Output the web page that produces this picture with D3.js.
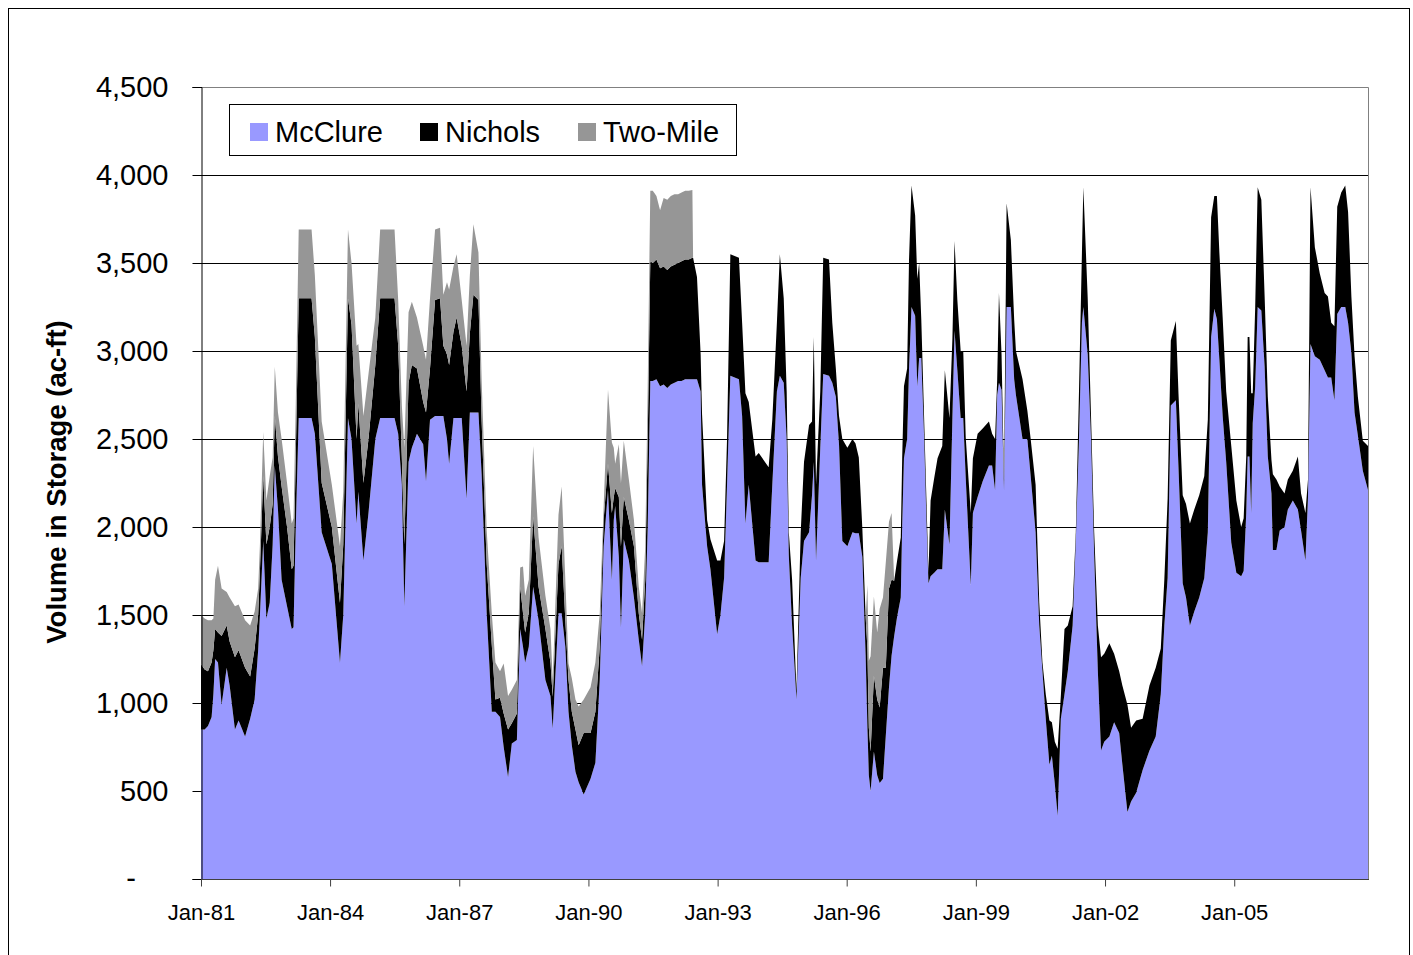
<!DOCTYPE html>
<html>
<head>
<meta charset="utf-8">
<script src="https://cdn.jsdelivr.net/npm/d3@7"></script>
<style>
  html, body { margin: 0; padding: 0; background: #ffffff; }
  svg { display: block; }
  text { font-family: "Liberation Sans", Arial, sans-serif; }
</style>
</head>
<body>
<svg id="chart" width="1413" height="955"></svg>
<script>
// ---------------- DATA ----------------
const seriesNames = ["McClure", "Nichols", "Two-Mile"];
const seriesColors = ["#9999ff", "#000000", "#969696"];

const dates = [
"1981-01-01","1981-02-01","1981-03-01","1981-04-01","1981-04-16","1981-05-01","1981-05-25","1981-06-25","1981-08-07","1981-09-01",
"1981-10-16","1981-11-16","1982-01-10","1982-02-22","1982-04-01","1982-05-01","1982-05-16","1982-06-13","1982-07-10","1982-08-07",
"1982-09-01","1982-09-19","1982-10-16","1982-11-16","1983-01-01","1983-02-10","1983-02-25","1983-03-16","1983-04-10","1983-07-28",
"1983-08-25","1983-10-22","1984-01-16","1984-03-25","1984-04-22","1984-06-01","1984-07-01","1984-08-13","1984-08-28","1984-10-10",
"1984-11-22","1985-01-19","1985-03-01","1985-07-01","1985-08-01","1985-09-01","1985-09-22","1985-10-28","1985-11-25","1986-01-07",
"1986-03-01","1986-03-25","1986-04-28","1986-06-10","1986-07-22","1986-08-19","1986-09-19","1986-10-07","1986-11-13","1986-12-10",
"1987-01-22","1987-03-04","1987-04-01","1987-05-01","1987-06-13","1987-07-10","1987-08-22","1987-10-04","1987-11-04","1987-12-13",
"1988-01-13","1988-02-19","1988-03-22","1988-05-04","1988-06-01","1988-06-25","1988-07-13","1988-08-13","1988-09-19","1988-11-04",
"1989-01-01","1989-02-13","1989-03-04","1989-04-22","1989-05-19","1989-06-19","1989-07-16","1989-08-13","1989-09-13","1989-10-10",
"1989-11-22","1990-01-19","1990-03-01","1990-04-07","1990-05-10","1990-06-16","1990-07-19","1990-08-04","1990-08-16","1990-09-16",
"1990-10-04","1990-10-28","1990-12-10","1991-01-22","1991-03-04","1991-04-01","1991-04-28","1991-05-19","1991-06-10","1991-07-01",
"1991-08-01","1991-09-01","1991-10-01","1991-11-01","1991-12-01","1992-01-01","1992-02-01","1992-03-01","1992-04-01","1992-05-01",
"1992-06-01","1992-06-07","1992-07-10","1992-08-10","1992-08-22","1992-10-04","1992-11-01","1992-12-28","1993-01-25","1993-02-25",
"1993-03-22","1993-04-19","1993-07-01","1993-07-28","1993-08-25","1993-09-22","1993-11-19","1993-12-16","1994-03-10","1994-04-10",
"1994-05-19","1994-06-13","1994-07-16","1994-08-10","1994-08-28","1994-09-25","1994-11-01","1994-12-07","1995-01-04","1995-02-16",
"1995-03-13","1995-03-28","1995-04-16","1995-05-22","1995-06-16","1995-08-04","1995-09-01","1995-10-01","1995-10-28","1995-11-25",
"1996-01-07","1996-02-19","1996-03-16","1996-04-13","1996-05-13","1996-06-10","1996-06-25","1996-07-07","1996-07-22","1996-08-19",
"1996-09-16","1996-10-07","1996-11-04","1996-11-28","1996-12-25","1997-01-16","1997-02-07","1997-03-04","1997-04-04","1997-04-16",
"1997-05-01","1997-05-28","1997-06-13","1997-07-04","1997-08-04","1997-08-22","1997-09-07","1997-09-25","1997-10-19","1997-11-07",
"1997-11-25","1997-12-13","1998-01-13","1998-02-10","1998-03-22","1998-04-13","1998-05-22","1998-06-16","1998-07-04","1998-07-28",
"1998-08-25","1998-09-16","1998-10-07","1998-11-19","1998-12-07","1999-01-16","1999-02-28","1999-04-22","1999-05-19","1999-06-13",
"1999-07-01","1999-07-16","1999-08-07","1999-08-28","1999-09-19","1999-10-25","1999-11-22","1999-12-07","2000-02-01","2000-03-13",
"2000-04-10","2000-05-22","2000-06-22","2000-07-19","2000-08-16","2000-09-16","2000-10-07","2000-11-01","2000-11-25","2000-12-22",
"2001-01-22","2001-02-19","2001-04-01","2001-04-28","2001-05-25","2001-06-19","2001-07-01","2001-08-07","2001-09-04","2001-10-01",
"2001-11-01","2001-11-28","2001-12-25","2002-02-07","2002-03-19","2002-05-01","2002-05-28","2002-07-10","2002-08-10","2002-09-22",
"2002-11-16","2003-01-13","2003-03-07","2003-04-19","2003-05-19","2003-06-16","2003-07-13","2003-08-25","2003-09-16","2003-10-22",
"2003-11-19","2003-12-22","2004-01-28","2004-03-10","2004-04-22","2004-05-22","2004-06-19","2004-07-16","2004-08-07","2004-08-28",
"2004-09-25","2004-10-25","2004-12-07","2005-01-19","2005-03-01","2005-03-22","2005-04-13","2005-04-25","2005-05-10","2005-05-25",
"2005-06-07","2005-06-28","2005-07-19","2005-08-19","2005-09-16","2005-10-13","2005-11-13","2005-11-25","2005-12-25","2006-01-22",
"2006-03-04","2006-04-01","2006-05-13","2006-06-25","2006-07-22","2006-08-28","2006-09-19","2006-10-10","2006-11-16","2006-12-28",
"2007-02-07","2007-03-07","2007-04-04","2007-05-01","2007-05-25","2007-06-28","2007-08-01","2007-08-25","2007-09-22","2007-10-19",
"2007-11-16","2007-12-28","2008-02-10"
];

const mcclure = [
850,850,870,920,1050,1250,1230,990,1200,1100,
850,900,810,910,1020,1300,1500,1920,1480,1570,
1900,2350,2100,1700,1550,1420,1430,2000,2620,2620,
2530,1970,1790,1230,1500,2620,2500,2020,2200,1810,
2080,2500,2620,2620,2530,2240,1550,2370,2450,2530,
2470,2260,2610,2630,2630,2630,2500,2360,2620,2620,
2620,2160,2650,2650,2650,2300,1510,950,950,920,
750,580,770,790,1420,1320,1230,1320,1660,1470,
1130,1040,855,1510,1510,1320,950,760,610,550,
480,570,660,1130,1890,2210,1700,2040,2120,1830,
1430,1930,1810,1600,1360,1210,1510,2000,2830,2830,
2840,2800,2810,2790,2810,2820,2830,2830,2840,2840,
2840,2840,2840,2770,2240,1890,1760,1390,1500,1710,
2240,2860,2840,2630,2020,2240,1810,1800,1800,2240,
2770,2860,2820,2500,1840,1440,1020,1710,1920,1970,
2180,2370,1810,2450,2870,2860,2820,2740,2470,1920,
1890,1970,1965,1965,1830,1270,860,590,500,725,
590,545,570,815,1090,1270,1380,1490,1600,2010,
2390,2500,2900,3250,3200,2800,2960,2960,2510,2055,
1680,1720,1740,1760,1760,2100,1900,2620,3115,2890,
2620,2620,2280,1670,2080,2170,2260,2350,2350,2210,
2750,2820,2780,2210,3250,3250,2840,2750,2500,2500,
2290,1970,1440,1180,910,650,700,540,360,910,
1050,1180,1440,1920,2500,3160,3250,2980,2500,1840,
1180,730,780,810,890,830,650,380,440,490,
620,730,810,1050,1440,1710,2690,2720,2340,1680,
1600,1440,1520,1600,1710,1970,3080,3240,3180,2950,
2630,2370,1910,1740,1720,1750,2080,2400,2400,2080,
2590,2800,3250,3230,2910,2400,2190,1870,1870,1980,
2000,2100,2150,2100,1980,1810,2170,3040,2970,2950,
2890,2850,2850,2720,3210,3250,3250,3160,2990,2650,
2520,2320,2210
];

const nichols = [
370,340,310,310,250,170,170,390,240,250,
410,400,390,240,290,200,250,370,420,430,
230,280,300,530,450,340,350,400,680,680,
550,280,210,340,400,680,650,480,500,440,
420,420,680,680,500,150,350,450,470,370,
240,390,290,660,670,400,480,560,490,570,
410,610,450,670,640,300,280,380,70,110,
190,270,115,150,240,190,170,190,400,190,
290,190,180,280,380,150,180,190,240,210,
350,260,290,190,150,150,380,130,100,340,
460,240,230,290,150,150,190,500,680,670,
680,670,670,670,670,670,670,680,680,680,
690,690,580,210,400,150,170,420,310,210,
260,690,690,530,740,470,590,620,540,370,
390,690,480,270,130,260,50,260,450,610,
420,710,430,320,660,660,340,160,160,580,
560,530,510,430,160,220,450,270,225,430,
430,430,630,385,560,430,315,320,340,380,
410,400,620,690,570,610,540,220,110,115,
60,430,540,630,700,790,720,450,510,400,
380,380,230,410,310,360,300,250,180,290,
90,510,200,60,590,380,340,250,340,160,
210,270,130,50,140,250,190,240,380,130,
370,260,110,50,270,400,680,320,130,130,
260,530,500,530,390,350,450,610,420,410,
290,370,390,260,260,450,370,450,420,500,
530,580,580,580,580,640,680,640,700,610,
560,400,550,410,280,300,320,680,680,680,
170,450,680,630,400,340,190,430,400,250,
190,170,170,300,210,270,100,890,620,490,
440,460,310,420,610,650,690,630,320,320,
220,170,250
];

const twoMile = [
280,290,290,240,180,280,380,270,190,250,
290,260,270,290,210,150,150,250,250,290,
265,280,250,270,250,260,270,300,390,390,
350,350,240,320,300,390,350,530,340,380,
370,270,390,390,260,300,550,400,360,290,
320,300,400,400,400,290,410,430,370,360,
260,260,330,400,270,235,190,180,210,150,
285,190,190,190,110,265,210,190,400,280,
190,190,95,280,340,230,95,190,170,220,
190,260,280,190,75,420,400,280,140,300,
360,320,230,150,150,150,190,300,400,410,
360,330,390,400,400,400,390,390,390,390,
385,0,0,0,0,0,0,0,0,0,
0,0,0,0,0,0,0,0,0,0,
0,0,0,0,0,0,0,0,0,0,
0,0,0,0,0,0,0,0,0,0,
0,0,0,0,0,0,360,380,540,450,
380,560,400,600,380,380,0,0,0,0,
0,0,0,0,0,0,0,0,0,0,
0,0,0,0,0,0,0,0,0,0,
0,0,0,0,0,0,0,0,0,0,
0,0,0,0,0,0,0,0,0,0,
0,0,0,0,0,0,0,0,0,0,
0,0,0,0,0,0,0,0,0,0,
0,0,0,0,0,0,0,0,0,0,
0,0,0,0,0,0,0,0,0,0,
0,0,0,0,0,0,0,0,0,0,
0,0,0,0,0,0,0,0,0,0,
0,0,0,0,0,0,0,0,0,0,
0,0,0,0,0,0,0,0,0,0,
0,0,0,0,0,0,0,0,0,0,
0,0,0
];

const yTickValues = [0, 500, 1000, 1500, 2000, 2500, 3000, 3500, 4000, 4500];
const xTickDates = ["1981-01-01","1984-01-01","1987-01-01","1990-01-01","1993-01-01","1996-01-01","1999-01-01","2002-01-01","2005-01-01"];
const yAxisTitle = "Volume in Storage (ac-ft)";

if (dates.length !== mcclure.length || dates.length !== nichols.length || dates.length !== twoMile.length) {
  console.error("length mismatch", dates.length, mcclure.length, nichols.length, twoMile.length);
}

// ---------------- LAYOUT ----------------
const plot = { left: 201, right: 1368, top: 87, bottom: 879 };
const parse = d3.timeParse("%Y-%m-%d");

const table = dates.map((d, i) => ({
  date: parse(d),
  "McClure": mcclure[i],
  "Nichols": nichols[i],
  "Two-Mile": twoMile[i]
}));

const x = d3.scaleTime()
  .domain(d3.extent(table, d => d.date))
  .range([plot.left, plot.right]);
const y = d3.scaleLinear()
  .domain([0, 4500])
  .range([plot.bottom, plot.top]);

const svg = d3.select("#chart");

// outer frame
svg.append("rect")
  .attr("x", 8.5).attr("y", 8.5)
  .attr("width", 1401).attr("height", 952)
  .attr("fill", "#ffffff").attr("stroke", "#000000").attr("stroke-width", 1);

// gridlines
svg.append("g").selectAll("line")
  .data(yTickValues.filter(v => v > 0 && v < 4500))
  .join("line")
  .attr("x1", plot.left).attr("x2", plot.right)
  .attr("y1", d => Math.round(y(d)) + 0.5).attr("y2", d => Math.round(y(d)) + 0.5)
  .attr("stroke", "#000000").attr("stroke-width", 1);

// plot border (top & right)
svg.append("path")
  .attr("d", `M${plot.left},${plot.top + 0.5}H${plot.right + 0.5}V${plot.bottom}`)
  .attr("fill", "none").attr("stroke", "#808080").attr("stroke-width", 1);

// stacked areas
const stack = d3.stack().keys(seriesNames);
const layers = stack(table);
const area = d3.area()
  .x(d => x(d.data.date))
  .y0(d => y(d[0]))
  .y1(d => y(d[1]))
  .curve(d3.curveLinear);

svg.append("g").selectAll("path")
  .data(layers)
  .join("path")
  .attr("d", area)
  .attr("fill", (d, i) => seriesColors[i])
  .attr("stroke", "none");

// y axis
const yAxis = d3.axisLeft(y)
  .tickValues(yTickValues)
  .tickSize(9)
  .tickPadding(0)
  .tickFormat(d => d === 0 ? "" : d3.format(",")(d));
const gy = svg.append("g")
  .attr("transform", `translate(${plot.left + 0.5},0)`)
  .call(yAxis);
gy.select(".domain").attr("stroke", "#000000");
gy.selectAll(".tick line").attr("stroke", "#000000");
gy.selectAll(".tick text")
  .attr("x", -33)
  .attr("font-size", 29)
  .attr("fill", "#000000")
  .attr("font-family", "'Liberation Sans', Arial, sans-serif");
// zero label shown as a dash
svg.append("text")
  .attr("x", 131).attr("y", y(0))
  .attr("dy", "0.32em")
  .attr("text-anchor", "middle")
  .attr("font-size", 29)
  .text("-");

// x axis
const xAxis = d3.axisBottom(x)
  .tickValues(xTickDates.map(parse))
  .tickSize(7)
  .tickPadding(18)
  .tickFormat(d3.timeFormat("%b-%y"));
const gx = svg.append("g")
  .attr("transform", `translate(0,${plot.bottom + 0.5})`)
  .call(xAxis);
gx.select(".domain").attr("stroke", "#404040").attr("d", `M${plot.left},0H${plot.right + 1}`);
gx.selectAll(".tick line").attr("stroke", "#404040");
gx.selectAll(".tick text")
  .attr("font-size", 22)
  .attr("fill", "#000000")
  .attr("font-family", "'Liberation Sans', Arial, sans-serif");

// y axis title
svg.append("text")
  .attr("transform", `translate(66,${(plot.top + plot.bottom) / 2 - 1}) rotate(-90)`)
  .attr("text-anchor", "middle")
  .attr("font-size", 27.5)
  .attr("font-weight", "bold")
  .text(yAxisTitle);

// legend
const legend = svg.append("g");
legend.append("rect")
  .attr("x", 229.5).attr("y", 104.5)
  .attr("width", 507).attr("height", 51)
  .attr("fill", "#ffffff").attr("stroke", "#000000").attr("stroke-width", 1);
const legendX = [250, 420, 578];
seriesNames.forEach((name, i) => {
  legend.append("rect")
    .attr("x", legendX[i]).attr("y", 123)
    .attr("width", 18).attr("height", 18)
    .attr("fill", seriesColors[i]);
  legend.append("text")
    .attr("x", legendX[i] + 25).attr("y", 132)
    .attr("dy", "0.35em")
    .attr("font-size", 29)
    .text(name);
});
</script>
</body>
</html>
